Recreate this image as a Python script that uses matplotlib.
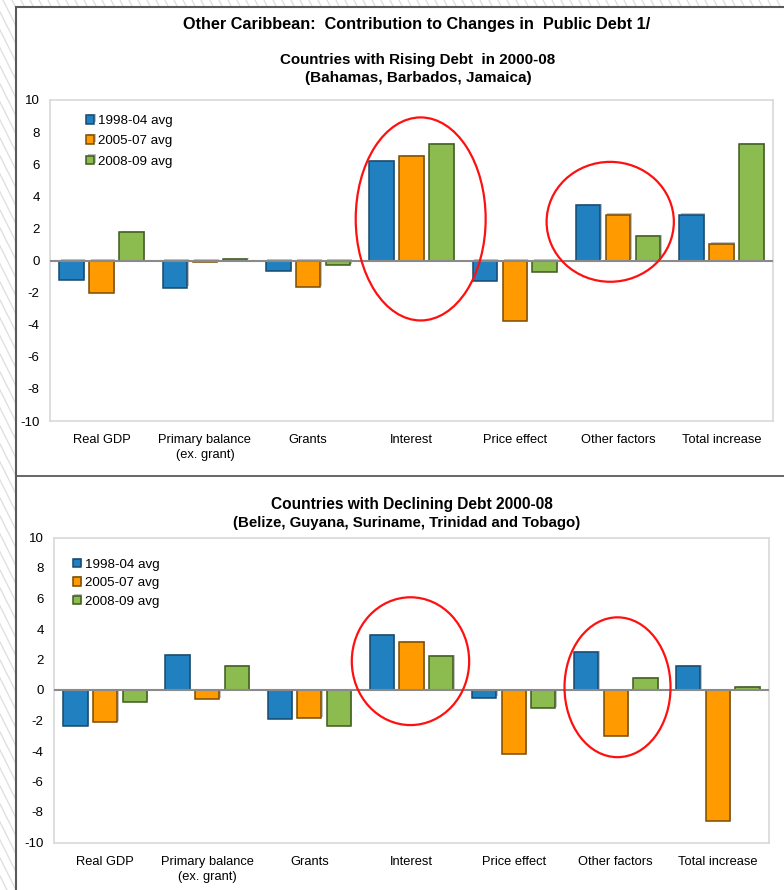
import matplotlib
matplotlib.use("Agg")
import matplotlib.pyplot as plt
from matplotlib.patches import Ellipse, Rectangle
from matplotlib.lines import Line2D
import matplotlib.patheffects as pe
import numpy as np

plt.rcParams['font.family'] = ['Liberation Sans', 'DejaVu Sans']

categories = ["Real GDP", "Primary balance\n(ex. grant)", "Grants", "Interest",
              "Price effect", "Other factors", "Total increase"]
series_names = ["1998-04 avg", "2005-07 avg", "2008-09 avg"]

# Countries with rising debt (Bahamas, Barbados, Jamaica)
rising_9804 = [-1.2, -1.7, -0.65, 6.2, -1.3, 3.45, 2.85]
rising_0507 = [-2.0, -0.1, -1.65, 6.5, -3.8, 2.85, 1.05]
rising_0809 = [1.75, 0.1, -0.3, 7.25, -0.72, 1.5, 7.25]

# Countries with declining debt (Belize, Guyana, Suriname, Trinidad and Tobago)
declining_9804 = [-2.39, 2.28, -1.93, 3.6, -0.5, 2.49, 1.58]
declining_0507 = [-2.1, -0.6, -1.86, 3.15, -4.17, -3.03, -8.62]
declining_0809 = [-0.77, 1.58, -2.39, 2.23, -1.19, 0.79, 0.2]

yticks = [-10, -8, -6, -4, -2, 0, 2, 4, 6, 8, 10]

colors = ["#2180c0", "#ff9a00", "#8cbb4f"]
edges = ["#17496e", "#7a4c00", "#3f5a1f"]

W, H = 784, 890
fig = plt.figure(figsize=(W / 100, H / 100), dpi=100)

# page background with diagonal hatching and the framed chart area
bg = fig.add_axes([0, 0, 1, 1], zorder=0)
bg.set_xlim(0, W)
bg.set_ylim(H, 0)
bg.axis("off")
for x0 in np.arange(-600, W + 20, 9):
    bg.add_line(Line2D([x0, x0 + 0.5 * H], [0, H], color="#e0e0e0", lw=1.0))
bg.add_patch(Rectangle((16, 6.5), W + 20, H + 20, facecolor="white",
                       edgecolor="#5a5a5a", lw=1.5, zorder=2))
bg.add_line(Line2D([16, W + 5], [476, 476], color="#5a5a5a", lw=1.3, zorder=3))

fig.text(416.5 / W, 1 - 25 / H,
         "Other Caribbean:  Contribution to Changes in  Public Debt 1/",
         ha="center", va="center", fontsize=11.7, fontweight="bold")


def px_axes(left, right, top, bottom):
    return fig.add_axes([left / W, 1 - bottom / H, (right - left) / W, (bottom - top) / H],
                        zorder=5)


def draw_panel(ax, values, ellipses, legend_anchor, legend_spacing):
    x = np.arange(len(categories))
    offsets = [-0.29, 0.0, 0.29]
    shadow = [pe.SimplePatchShadow(offset=(1.0, 1.0), shadow_rgbFace="#9a9a9a", alpha=0.6),
              pe.Normal()]
    for vals, off, c, ec, name in zip(values, offsets, colors, edges, series_names):
        bars = ax.bar(x + off, vals, width=0.237, color=c, edgecolor=ec,
                      linewidth=1.1, label=name, zorder=3)
        for b in bars:
            b.set_path_effects(shadow)
    ax.axhline(0, color="#8a8a8a", lw=1.5, zorder=4)
    ax.set_xlim(-0.5, len(categories) - 0.5)
    ax.set_ylim(-10, 10)
    ax.set_yticks(yticks)
    ax.set_yticklabels([str(v) for v in yticks], fontsize=9.5)
    ax.set_xticks(x)
    ax.set_xticklabels(categories, fontsize=9.3, linespacing=1.35)
    ax.tick_params(axis="y", length=0, pad=7.5)
    ax.tick_params(axis="x", length=0, pad=9.5)
    for s in ax.spines.values():
        s.set_color("#d9d9d9")
        s.set_linewidth(1.2)
    for (cx, cy, w, h) in ellipses:
        ax.add_patch(Ellipse((cx, cy), w, h, fill=False, edgecolor="#ff1010",
                             lw=1.6, zorder=6, clip_on=False))
    leg = ax.legend(loc="upper left", bbox_to_anchor=legend_anchor, frameon=False,
                    fontsize=9.6, handlelength=0.6, handleheight=0.6,
                    handletextpad=0.3, labelspacing=legend_spacing,
                    borderpad=0, borderaxespad=0)
    return leg


# Rising debt panel
ax1 = px_axes(50, 773, 100, 421)
draw_panel(ax1, [rising_9804, rising_0507, rising_0809],
           [(3.089, 2.59, 1.258, 12.65), (4.924, 2.41, 1.232, 7.47)],
           (0.05, 0.953), 0.62)
fig.text(417.5 / W, 1 - 60 / H, "Countries with Rising Debt  in 2000-08",
         ha="center", va="center", fontsize=10.9, fontweight="bold")
fig.text(418 / W, 1 - 78 / H, "(Bahamas, Barbados, Jamaica)",
         ha="center", va="center", fontsize=11, fontweight="bold")

# Declining debt panel
ax2 = px_axes(54, 769, 537.5, 842.5)
draw_panel(ax2, [declining_9804, declining_0507, declining_0809],
           [(2.99, 1.89, 1.149, 8.38), (5.017, 0.18, 1.038, 9.17)],
           (0.026, 0.93), 0.48)
fig.text(412 / W, 1 - 505 / H, "Countries with Declining Debt 2000-08",
         ha="center", va="center", fontsize=11.2, fontweight="bold")
fig.text(406.5 / W, 1 - 523 / H, "(Belize, Guyana, Suriname, Trinidad and Tobago)",
         ha="center", va="center", fontsize=10.8, fontweight="bold")

fig.savefig("out.png", dpi=100)
